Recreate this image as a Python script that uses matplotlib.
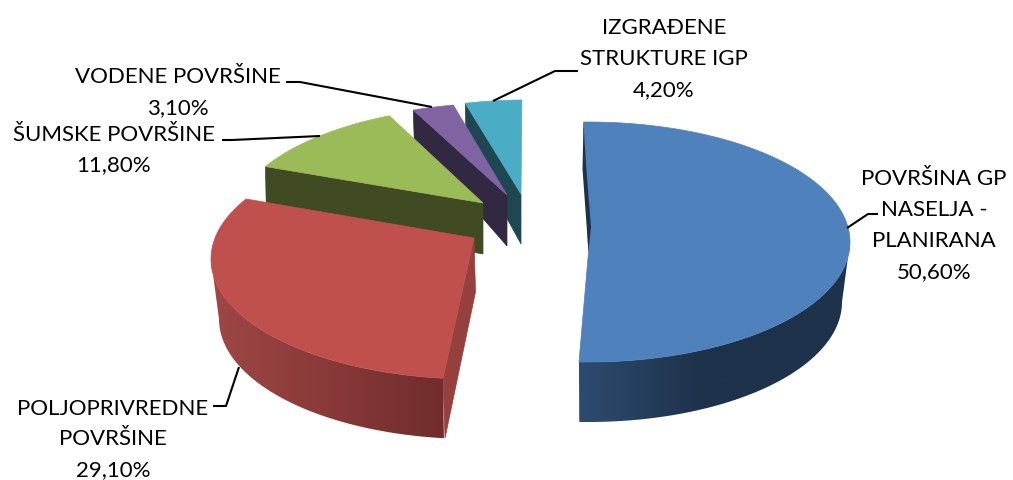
import numpy as np
import matplotlib
matplotlib.use("Agg")
import matplotlib.pyplot as plt
from matplotlib.patches import Polygon

# ---- data ----
names = ["POVRŠINA GP\nNASELJA -\nPLANIRANA", "POLJOPRIVREDNE\nPOVRŠINE", "ŠUMSKE POVRŠINE",
         "VODENE POVRŠINE", "IZGRAĐENE\nSTRUKTURE IGP"]
values = [50.6, 29.1, 11.8, 3.1, 4.2]

# ---- style / layout (pixel space) ----
top_colors = ["#4F81BD", "#C0504D", "#9BBB59", "#8064A2", "#4BACC6"]
RX, RY, DEPTH, SHRINK = 262, 120, 60, 8
centers = [(588, 243), (473, 260), (493, 227), (502, 224), (526, 221)]
apexes = [(588.5, 253), (474, 239), (483, 204), (507, 196), (521, 195)]
shift_start = [-1.0, 2.2, 9.3, 6.8, 1.9]
shift_end = [-2.4, 9.6, 3.3, 4.6, -0.9]
label_pos = [(934, 225.5), (113, 439.5), (113.5, 150), (178, 92.5), (664, 59)]
leaders = [[(847, 229), (868, 215), (878, 215)],
           [(239, 368), (226, 407), (213, 407)],
           [(320, 137), (232, 141), (222, 141)],
           [(432, 108), (300, 83), (286, 83)],
           [(493, 102), (555, 72), (578, 72)]]

plt.rcParams["font.family"] = ["Lato", "DejaVu Sans"]
fig = plt.figure(figsize=(10.13, 4.81), dpi=100)
ax = fig.add_axes([0, 0, 1, 1])

fractions = np.array(values) / sum(values)
ends = np.cumsum(fractions) * 360
starts = np.concatenate([[0], ends[:-1]])


def rim(c, a0, a1, bottom=False, n=160):
    phi = np.radians(np.linspace(a0, a1, n))
    rx = RX - SHRINK if bottom else RX
    dy = DEPTH if bottom else 0
    return np.column_stack([c[0] + rx * np.sin(phi), c[1] + dy - RY * np.cos(phi)])


def gradient_wall(c, a_from, a_to, x0, x1, x_stop, col0, col1):
    """Curved outer wall filled with a horizontal colour gradient."""
    pts = np.vstack([rim(c, a_from, a_to), rim(c, a_to, a_from, bottom=True)])
    xs = np.linspace(x0, x1, 400)
    t = np.clip((xs - x0) / (x_stop - x0), 0, 1)[None, :, None]
    img = np.array(col0)[None, None, :] * (1 - t) + np.array(col1)[None, None, :] * t
    im = ax.imshow(img / 255, extent=(x0, x1, 481, 0), aspect="auto", zorder=z,
                   interpolation="bilinear")
    im.set_clip_path(Polygon(pts, closed=True, transform=ax.transData))


a0 = [s + d for s, d in zip(starts, shift_start)]
a1 = [e + d for e, d in zip(ends, shift_end)]


def top_face(i):
    pts = np.vstack([[apexes[i]], rim(centers[i], a0[i], a1[i])])
    ax.add_patch(Polygon(pts, closed=True, fc=top_colors[i], ec=top_colors[i], lw=0.5, zorder=z + 1))


def flat_wall(i, angle, back_depth, front_depth, color):
    p = rim(centers[i], angle, angle, n=1)[0]
    ap = apexes[i]
    pts = [p, ap, (ap[0], ap[1] + front_depth), (p[0] + 1, p[1] + back_depth)]
    ax.add_patch(Polygon(pts, closed=True, fc=color, ec=color, lw=0.5, zorder=z))


# Teal
z = 2
flat_wall(4, a0[4], 41, 50, "#1F4752")
top_face(4)
# Purple
z = 4
flat_wall(3, a0[3], 30, 51, "#322842")
top_face(3)
# Green
z = 6
flat_wall(2, a0[2], 48, 51, "#404A23")
top_face(2)
# Red
z = 8
red_ap = apexes[1]
red_p = rim(centers[1], a0[1], a0[1], n=1)[0]
ax.add_patch(Polygon([red_p, red_ap, (red_ap[0] + 1.5, red_ap[1] + 54), (red_p[0] + 2, red_p[1] + 60)],
                     closed=True, fc="#96403E", ec="#96403E", lw=0.5, zorder=z))
gradient_wall(centers[1], 270, a0[1], 205, 450, 445, (160, 72, 70), (113, 44, 44))
top_face(1)
# Blue
z = 10
gradient_wall(centers[0], a1[0], 90, 575, 860, 700, (46, 76, 112), (30, 50, 75))
top_face(0)
ax.add_patch(Polygon([(583.5, 124), (582.5, 170), (588.5, 253), (591, 228), (586, 165)],
                     closed=True, fc="#1E324B", ec="none", zorder=z + 2))

# Labels and leaders
for name, val, pos in zip(names, values, label_pos):
    text = f"{name}\n{val:.2f}%".replace(".", ",")
    ax.text(pos[0], pos[1], text, ha="center", va="center", fontsize=16,
            linespacing=1.68, color="black", zorder=20)
for line in leaders:
    xs, ys = zip(*line)
    ax.plot(xs, ys, color="black", lw=1.5, solid_capstyle="butt", zorder=15)

ax.set_xlim(0, 1013)
ax.set_ylim(481, 0)
ax.axis("off")
fig.savefig("out.png", dpi=100, facecolor="white")
